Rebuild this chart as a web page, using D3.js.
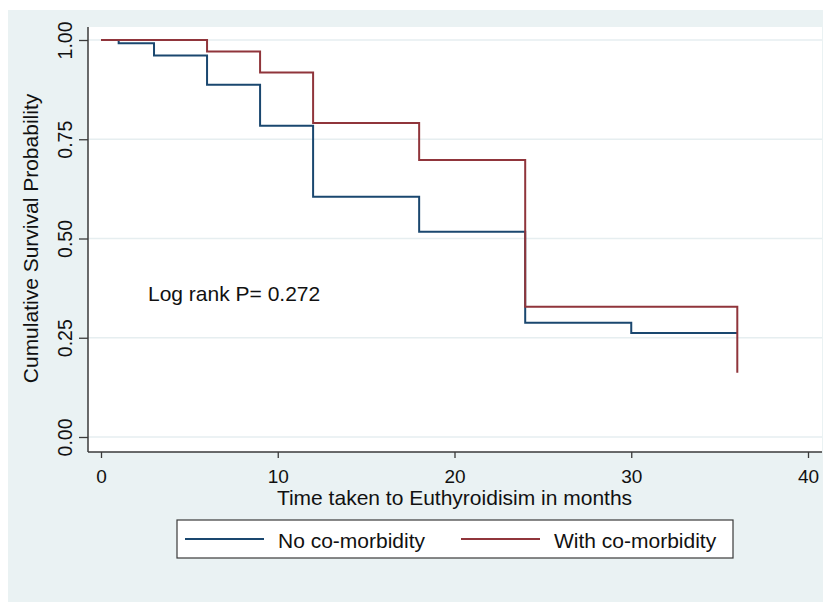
<!DOCTYPE html>
<html>
<head>
<meta charset="utf-8">
<script src="https://cdn.jsdelivr.net/npm/d3@7"></script>
<style>
  body { margin: 0; background: #fff; }
  svg text { font-family: "Liberation Sans", Arial, sans-serif; fill: #111; }
</style>
</head>
<body>
<div id="chart"></div>
<script>
// ── Data ─────────────────────────────────────────────────────
const noComTime   = [0, 1, 3, 6, 9, 12, 18, 24, 30, 36];
const noComSurv   = [1.00, 0.992, 0.961, 0.887, 0.784, 0.605, 0.517, 0.288, 0.262, 0.262];
const withComTime = [0, 6, 9, 12, 18, 24, 36];
const withComSurv = [1.00, 0.971, 0.918, 0.791, 0.698, 0.328, 0.162];

const xTicks = [0, 10, 20, 30, 40];
const yTicks = [0, 0.25, 0.50, 0.75, 1.00];

const seriesNames = ['No co-morbidity', 'With co-morbidity'];
const seriesColors = ['#1a476f', '#90353b'];
const annotation = 'Log rank P= 0.272';
const xTitle = 'Time taken to Euthyroidisim in months';
const yTitle = 'Cumulative Survival Probability';

// ── Layout ───────────────────────────────────────────────────
const width = 823, height = 604;
const plot = { left: 88, top: 27, right: 822, bottom: 452 };

const svg = d3.select('#chart').append('svg')
  .attr('width', width)
  .attr('height', height);

// outer graph region
svg.append('rect').attr('x', 8).attr('y', 10)
  .attr('width', width - 8).attr('height', height - 12)
  .attr('fill', '#eaf2f3');

// plot region
svg.append('rect').attr('x', plot.left).attr('y', plot.top)
  .attr('width', plot.right - plot.left).attr('height', plot.bottom - plot.top)
  .attr('fill', '#fff');

// ── Scales ───────────────────────────────────────────────────
const x = d3.scaleLinear().domain([0, 40]).range([101, 808]);
const y = d3.scaleLinear().domain([0, 1]).range([437, 40]);

// ── Grid ─────────────────────────────────────────────────────
svg.append('g')
  .selectAll('line')
  .data(yTicks)
  .join('line')
  .attr('x1', plot.left).attr('x2', plot.right)
  .attr('y1', d => y(d)).attr('y2', d => y(d))
  .attr('stroke', '#e6eef0')
  .attr('stroke-width', 1.5);

// ── Axes ─────────────────────────────────────────────────────
const axisColor = '#3a3a3a';

const xAxis = svg.append('g')
  .attr('transform', `translate(0,${plot.bottom})`)
  .call(d3.axisBottom(x).tickValues(xTicks).tickSize(6).tickFormat(d3.format('d')));
xAxis.select('.domain').remove();
xAxis.selectAll('.tick line').attr('stroke', axisColor).attr('stroke-width', 1.3);
xAxis.selectAll('.tick text')
  .attr('y', 31).attr('dy', 0)
  .attr('font-size', 19)
  .attr('font-family', '"Liberation Sans", Arial, sans-serif')
  .attr('fill', '#111');

const yAxis = svg.append('g')
  .attr('transform', `translate(${plot.left},0)`)
  .call(d3.axisLeft(y).tickValues(yTicks).tickSize(9).tickFormat(d3.format('.2f')));
yAxis.select('.domain').remove();
yAxis.selectAll('.tick line').attr('stroke', axisColor).attr('stroke-width', 1.3);
yAxis.selectAll('.tick text')
  .attr('transform', 'rotate(-90)')
  .attr('x', 0).attr('y', -16).attr('dy', 0)
  .attr('text-anchor', 'middle')
  .attr('font-size', 19.5)
  .attr('font-family', '"Liberation Sans", Arial, sans-serif')
  .attr('fill', '#111');

// axis lines
svg.append('line')
  .attr('x1', plot.left).attr('x2', plot.right)
  .attr('y1', plot.bottom).attr('y2', plot.bottom)
  .attr('stroke', axisColor).attr('stroke-width', 1.5);
svg.append('line')
  .attr('x1', plot.left).attr('x2', plot.left)
  .attr('y1', plot.top).attr('y2', plot.bottom)
  .attr('stroke', axisColor).attr('stroke-width', 1.5);

// axis titles
svg.append('text')
  .attr('x', (plot.left + plot.right) / 2 + 0).attr('y', 505)
  .attr('x', x(20))
  .attr('text-anchor', 'middle')
  .attr('font-size', 21)
  .text(xTitle);

svg.append('text')
  .attr('transform', `translate(38,${(y(0) + y(1)) / 2}) rotate(-90)`)
  .attr('text-anchor', 'middle')
  .attr('font-size', 21)
  .text(yTitle);

// ── Survival curves ──────────────────────────────────────────
const stepLine = d3.line()
  .x(d => x(d[0]))
  .y(d => y(d[1]))
  .curve(d3.curveStepAfter);

const curves = [
  d3.zip(noComTime, noComSurv),
  d3.zip(withComTime, withComSurv),
];

curves.forEach((pts, i) => {
  svg.append('path')
    .datum(pts)
    .attr('fill', 'none')
    .attr('stroke', seriesColors[i])
    .attr('stroke-width', 2)
    .attr('d', stepLine);
});

// annotation
svg.append('text')
  .attr('x', 148).attr('y', 301)
  .attr('font-size', 21)
  .text(annotation);

// ── Legend ───────────────────────────────────────────────────
const legend = svg.append('g');
legend.append('rect')
  .attr('x', 177).attr('y', 520)
  .attr('width', 556).attr('height', 38)
  .attr('fill', '#fff')
  .attr('stroke', axisColor)
  .attr('stroke-width', 1.2);

const legendX = [185, 461];
seriesNames.forEach((name, i) => {
  legend.append('line')
    .attr('x1', legendX[i]).attr('x2', legendX[i] + 79)
    .attr('y1', 539).attr('y2', 539)
    .attr('stroke', seriesColors[i]).attr('stroke-width', 2);
  legend.append('text')
    .attr('x', legendX[i] + 93).attr('y', 548)
    .attr('font-size', 21)
    .text(name);
});
</script>
</body>
</html>
